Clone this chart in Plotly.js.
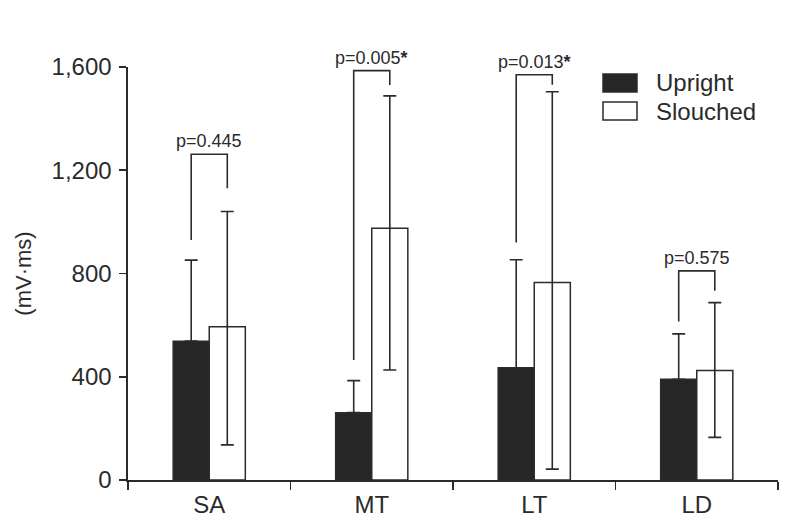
<!DOCTYPE html>
<html>
<head>
<meta charset="utf-8">
<script src="https://cdn.plot.ly/plotly-3.0.1.min.js"></script>
<style>html,body{margin:0;padding:0;background:#fff;}#chart{width:796px;height:528px;}</style>
</head>
<body>
<div id="chart"></div>
<script>
// ---- data ----
const categories = ["SA", "MT", "LT", "LD"];
const uprightMean = [538, 261, 435, 390];
const uprightErrUp = [314, 124, 418, 176];
const slouchedMean = [594, 975, 765, 424];
const slouchedErrUp = [446, 513, 739, 263];
const slouchedErrDown = [458, 549, 723, 259];
const pLabels = ["p=0.445", "p=0.005<b>*</b>", "p=0.013<b>*</b>", "p=0.575"];
const bracketLeft = [930, 465, 920, 614];
const bracketTop = [1262, 1586, 1570, 810];
const bracketRight = [1130, 1530, 1531, 733];
const yTicks = [0, 400, 800, 1200, 1600];
const yTickText = ["0", "400", "800", "1,200", "1,600"];

const ink = "#2b2b2b";
const FONT = "Liberation Sans, Arial, sans-serif";
const bargap = 0.556;
const half = (1 - bargap) / 4; // offset from category centre to each bar centre

const traces = [
  {
    type: "bar", name: "Upright", x: categories, y: uprightMean,
    marker: {color: "#262626", line: {color: ink, width: 1.5}},
    error_y: {type: "data", array: uprightErrUp, arrayminus: uprightErrUp.map(() => 0),
              symmetric: false, color: ink, thickness: 1.6, width: 6.5},
    showlegend: false
  },
  {
    type: "bar", name: "Slouched", x: categories, y: slouchedMean,
    marker: {color: "#ffffff", line: {color: ink, width: 1.5}},
    error_y: {type: "data", array: slouchedErrUp, arrayminus: slouchedErrDown,
              symmetric: false, color: ink, thickness: 1.6, width: 6.5},
    showlegend: false
  }
];

const shapes = [];
const annotations = [];
categories.forEach((c, i) => {
  const xl = i - half, xr = i + half;
  shapes.push({
    type: "path", xref: "x", yref: "y",
    path: `M${xl},${bracketLeft[i]} L${xl},${bracketTop[i]} L${xr},${bracketTop[i]} L${xr},${bracketRight[i]}`,
    line: {color: ink, width: 1.6}
  });
  annotations.push({
    xref: "x", yref: "y", x: i, y: bracketTop[i], text: pLabels[i],
    showarrow: false, yanchor: "bottom", yshift: 1,
    font: {family: FONT, size: 18, color: ink}
  });
});

// custom legend (paper coordinates)
const legendItems = [
  {label: "Upright", fill: "#262626"},
  {label: "Slouched", fill: "#ffffff"}
];
const W = 650, H = 413, L = 128, T = 67;
const px2x = p => (p - L) / W;
const py2y = p => 1 - (p - T) / H;
legendItems.forEach((it, k) => {
  const top = 74 + k * 28, bot = top + 18;
  shapes.push({type: "rect", xref: "paper", yref: "paper",
    x0: px2x(603), x1: px2x(637), y0: py2y(bot), y1: py2y(top),
    fillcolor: it.fill, line: {color: ink, width: 1.5}});
  annotations.push({xref: "paper", yref: "paper", x: px2x(654), y: py2y((top + bot) / 2),
    xanchor: "left", yanchor: "middle", showarrow: false, text: it.label,
    font: {family: FONT, size: 24, color: ink}});
});

const layout = {
  width: 796, height: 528,
  margin: {l: 128, r: 18, t: 67, b: 48, pad: 0},
  paper_bgcolor: "#fff", plot_bgcolor: "#fff",
  barmode: "group", bargap: bargap, bargroupgap: 0,
  font: {family: FONT, color: ink},
  xaxis: {
    type: "category", range: [-0.5, 3.5],
    showline: true, linecolor: ink, linewidth: 1.6,
    ticks: "outside", tickson: "boundaries", ticklen: 8, tickwidth: 1.6, tickcolor: ink,
    showgrid: false, zeroline: false, ticklabelstandoff: 3,
    tickfont: {size: 24, color: ink}
  },
  yaxis: {
    range: [0, 1600], tickvals: yTicks, ticktext: yTickText,
    showline: true, linecolor: ink, linewidth: 1.6,
    ticks: "outside", ticklen: 7, tickwidth: 1.6, tickcolor: ink,
    showgrid: false, zeroline: false, ticklabelstandoff: 3,
    tickfont: {size: 24, color: ink},
    title: {text: "(mV·ms)", font: {size: 22, color: ink}, standoff: 14}
  },
  shapes: shapes,
  annotations: annotations,
  showlegend: false
};

Plotly.newPlot("chart", traces, layout, {displayModeBar: false, staticPlot: true});
</script>
</body>
</html>
